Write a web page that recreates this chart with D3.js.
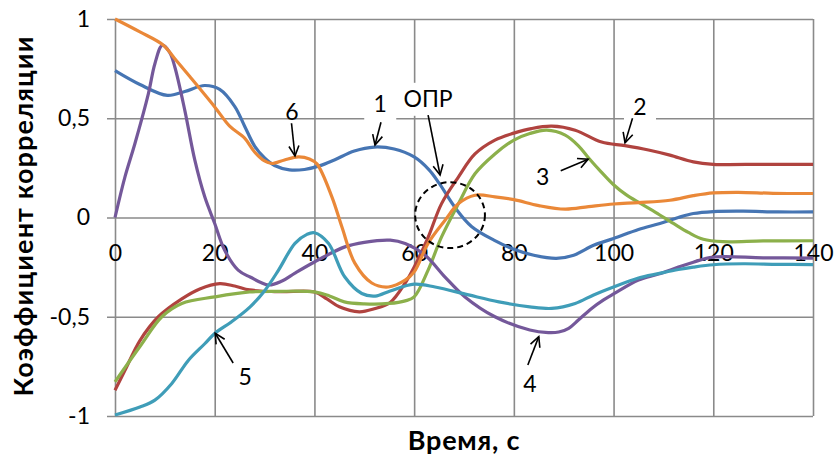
<!DOCTYPE html>
<html>
<head>
<meta charset="utf-8">
<script src="https://cdn.jsdelivr.net/npm/d3@7"></script>
<style>
  body { margin: 0; background: #fff; }
  svg { display: block; font-family: Lato, "Open Sans", sans-serif; }
</style>
</head>
<body>
<div id="chart"></div>
<script>
// axis ticks
var xTicks = [0, 20, 40, 60, 80, 100, 120, 140];
var yTicks = [-1, -0.5, 0, 0.5, 1];

// curves, [time, correlation]
var curve1 = [[0,0.74],[5,0.67],[10.5,0.615],[14,0.635],[18,0.665],[21,0.645],[24,0.56],[26,0.46],[28,0.36],[30,0.3],[32,0.262],[35,0.24],[38,0.242],[41,0.26],[44,0.29],[48,0.335],[52,0.355],[56,0.345],[60,0.305],[63,0.24],[65,0.173],[68.5,0.04],[71.5,-0.045],[76,-0.114],[80,-0.16],[84,-0.19],[88.5,-0.206],[92,-0.19],[96,-0.14],[100,-0.106],[105,-0.06],[109.3,-0.03],[113,0.0],[116,0.02],[120,0.03],[126,0.032],[133,0.028],[140,0.028]];
var curve2 = [[0,-0.87],[2,-0.77],[5,-0.62],[8.7,-0.5],[13.4,-0.41],[17,-0.36],[21,-0.333],[24,-0.345],[27,-0.365],[33,-0.374],[40,-0.375],[42.5,-0.41],[45,-0.45],[49,-0.475],[52,-0.46],[55.2,-0.428],[58.2,-0.33],[60,-0.25],[62.8,-0.1],[65.5,0.07],[68.9,0.205],[72.2,0.32],[76.2,0.39],[80,0.425],[83.5,0.448],[87.6,0.46],[92.3,0.44],[97.6,0.38],[102.3,0.362],[107,0.34],[111.3,0.314],[116,0.28],[120,0.268],[130,0.268],[140,0.268]];
var curve3 = [[0,-0.828],[5,-0.65],[9.4,-0.5],[13.4,-0.433],[20,-0.4],[27,-0.375],[33,-0.372],[40,-0.375],[43,-0.395],[46,-0.425],[50,-0.435],[55,-0.433],[58.2,-0.42],[60,-0.4],[62.8,-0.265],[65.5,-0.098],[68.9,0.07],[72.2,0.22],[76.2,0.32],[80,0.39],[83.2,0.423],[86.6,0.44],[90.3,0.415],[93,0.36],[95,0.3],[97.5,0.23],[100,0.165],[102.5,0.115],[105.3,0.072],[108.5,0.025],[112,-0.03],[115,-0.075],[118,-0.11],[122,-0.122],[130,-0.118],[140,-0.117]];
var curve4 = [[0,0],[2,0.205],[4,0.373],[6.7,0.624],[8,0.775],[9.5,0.868],[11,0.83],[12,0.758],[14,0.54],[16,0.29],[18,0.104],[20,-0.03],[22,-0.165],[24.7,-0.265],[27.1,-0.3],[30.8,-0.34],[33.5,-0.32],[36.1,-0.28],[40,-0.224],[46.1,-0.148],[50,-0.125],[55.2,-0.114],[58.2,-0.131],[62.2,-0.19],[66.2,-0.3],[70.2,-0.4],[76.2,-0.5],[83.2,-0.567],[86.9,-0.58],[89,-0.577],[91,-0.558],[93,-0.515],[95.6,-0.458],[98,-0.415],[100,-0.385],[105,-0.315],[109,-0.285],[113,-0.25],[116,-0.225],[120,-0.2],[130,-0.203],[140,-0.205]];
var curve5 = [[0,-0.995],[5,-0.955],[8,-0.92],[11.4,-0.836],[14.7,-0.72],[18,-0.636],[20,-0.584],[23.4,-0.525],[27.1,-0.45],[30.1,-0.366],[32.8,-0.265],[36.1,-0.13],[38.5,-0.085],[40,-0.077],[42.8,-0.13],[46.1,-0.3],[49.5,-0.383],[52.2,-0.396],[55.2,-0.37],[60,-0.336],[64.2,-0.35],[70.9,-0.39],[77,-0.425],[83.2,-0.45],[87.6,-0.458],[92.3,-0.433],[96,-0.39],[100,-0.35],[105,-0.305],[109,-0.283],[113,-0.262],[116,-0.25],[120,-0.238],[126,-0.233],[133,-0.236],[140,-0.237]];
var curve6 = [[0,1],[5,0.935],[9.7,0.868],[12,0.8],[15,0.71],[20,0.557],[23,0.46],[26,0.4],[28,0.33],[30,0.285],[31.5,0.272],[34,0.29],[36.8,0.305],[39,0.295],[40.5,0.27],[43.5,0.104],[45.5,-0.047],[48.1,-0.23],[51.5,-0.33],[54.8,-0.35],[58.2,-0.316],[60,-0.274],[62.8,-0.13],[66.2,-0.014],[68.9,0.07],[72.2,0.112],[76.2,0.104],[80,0.09],[85,0.06],[90.3,0.042],[95,0.055],[100,0.068],[105,0.075],[111.3,0.087],[116,0.11],[120,0.124],[125,0.127],[132,0.122],[140,0.121]];

var curves = [curve1, curve2, curve3, curve4, curve5, curve6];
var colors = ["#4675b3", "#b0433f", "#8cb04b", "#74589a", "#3f9db8", "#ea8838"];

// number labels with arrows: [text, label x, label y, arrow from x, from y, to x, to y]
var notes = [
    ["6", 35.5, 0.531, 35.4, 0.475, 36.1, 0.31],
    ["1", 53.2, 0.573, 53.35, 0.48, 52.15, 0.365],
    ["ОПР", 62.8, 0.598, 62.8, 0.516, 65.2, 0.214],
    ["2", 105.3, 0.56, 103.8, 0.5, 102.3, 0.376],
    ["3", 85.8, 0.206, 89.4, 0.235, 94.9, 0.294],
    ["4", 83.2, -0.836, 82.8, -0.743, 85.0, -0.6],
    ["5", 26.1, -0.8, 23.7, -0.733, 20.1, -0.583]
];
// dashed circle around ОПР: [x, y, radius in x, radius in y]
var zone = [67.2, 0.012, 7, 0.166];

var W = 834, H = 457;
var x = d3.scaleLinear().domain([0, 140]).range([115, 813]);
var y = d3.scaleLinear().domain([-1, 1]).range([416, 19]);

var svg = d3.select("#chart").append("svg")
    .attr("width", W)
    .attr("height", H);

// arrow head
svg.append("defs").append("marker")
    .attr("id", "arr")
    .attr("markerUnits", "userSpaceOnUse")
    .attr("markerWidth", 14)
    .attr("markerHeight", 14)
    .attr("refX", 11)
    .attr("refY", 6)
    .attr("orient", "auto")
    .append("path")
    .attr("d", "M1,1 L11,6 L1,11")
    .attr("fill", "none")
    .attr("stroke", "#000")
    .attr("stroke-width", 1.6);

// grid
var gridColor = "#8a8a8a";
svg.append("g")
    .attr("transform", `translate(${x(140)},0)`)
    .call(d3.axisLeft(y).tickValues(yTicks).tickSize(-(x(140) - x(0)) - 8).tickFormat(""))
    .call(g => g.select(".domain").remove())
    .call(g => g.selectAll("line").attr("stroke", gridColor).attr("stroke-width", 1.6).attr("x2", -(x(140) - x(0)) - 8));

svg.append("g")
    .attr("transform", `translate(0,${y(-1)})`)
    .call(d3.axisBottom(x).tickValues(xTicks).tickSize(-(y(-1) - y(1))).tickFormat(""))
    .call(g => g.select(".domain").remove())
    .call(g => g.selectAll("line").attr("stroke", gridColor).attr("stroke-width", 1.6));

// tick labels
svg.append("g")
    .attr("transform", `translate(${x(0)},0)`)
    .call(d3.axisLeft(y).tickValues(yTicks).tickSize(8).tickPadding(17)
        .tickFormat(d => String(d).replace(".", ",")))
    .call(g => g.select(".domain").remove())
    .call(g => g.selectAll("line").remove())
    .call(g => g.selectAll("text").attr("font-size", 23).attr("fill", "#000").attr("font-family", "Lato"));

svg.append("g")
    .attr("transform", `translate(0,${y(0)})`)
    .call(d3.axisBottom(x).tickValues(xTicks).tickSize(0).tickPadding(27))
    .call(g => g.select(".domain").remove())
    .call(g => g.selectAll("text").attr("font-size", 23).attr("fill", "#000").attr("font-family", "Lato"));

// white boxes under labels 1, 2 and ОПР
var boxed = notes.filter(d => d[0] === "1" || d[0] === "2" || d[0] === "ОПР");
svg.selectAll(".lblbox")
    .data(boxed)
    .enter()
    .append("rect")
    .attr("class", "lblbox")
    .attr("x", d => x(d[1]) - (d[0].length > 1 ? 30 : 16))
    .attr("y", d => y(d[2]) - 16)
    .attr("width", d => d[0].length > 1 ? 60 : 32)
    .attr("height", 33)
    .attr("fill", "#fff");

// lines
var line = d3.line()
    .x(d => x(d[0]))
    .y(d => y(d[1]))
    .curve(d3.curveCatmullRom.alpha(0.5));

svg.selectAll(".series")
    .data(curves)
    .enter()
    .append("path")
    .attr("class", "series")
    .attr("fill", "none")
    .attr("stroke", (d, i) => colors[i])
    .attr("stroke-width", 3.2)
    .attr("stroke-linejoin", "round")
    .attr("d", line);

// dashed circle
svg.append("ellipse")
    .attr("cx", x(zone[0]))
    .attr("cy", y(zone[1]))
    .attr("rx", x(zone[2]) - x(0))
    .attr("ry", y(0) - y(zone[3]))
    .attr("fill", "none")
    .attr("stroke", "#000")
    .attr("stroke-width", 2)
    .attr("stroke-dasharray", "6,4");

// arrows and labels
svg.selectAll(".arrow")
    .data(notes)
    .enter()
    .append("line")
    .attr("class", "arrow")
    .attr("x1", d => x(d[3]))
    .attr("y1", d => y(d[4]))
    .attr("x2", d => x(d[5]))
    .attr("y2", d => y(d[6]))
    .attr("stroke", "#000")
    .attr("stroke-width", 1.6)
    .attr("marker-end", "url(#arr)");

svg.selectAll(".note")
    .data(notes)
    .enter()
    .append("text")
    .attr("class", "note")
    .attr("x", d => x(d[1]))
    .attr("y", d => y(d[2]))
    .attr("dy", "0.36em")
    .attr("text-anchor", "middle")
    .attr("font-size", 23)
    .text(d => d[0]);

// axis titles
svg.append("text")
    .attr("x", 464)
    .attr("y", 450)
    .attr("text-anchor", "middle")
    .attr("font-size", 27)
    .attr("font-weight", "bold")
    .attr("letter-spacing", 0.8)
    .text("Время, с");

svg.append("text")
    .attr("transform", "translate(33,216) rotate(-90)")
    .attr("text-anchor", "middle")
    .attr("font-size", 27)
    .attr("font-weight", "bold")
    .attr("letter-spacing", 1.1)
    .text("Коэффициент корреляции");
</script>
</body>
</html>
